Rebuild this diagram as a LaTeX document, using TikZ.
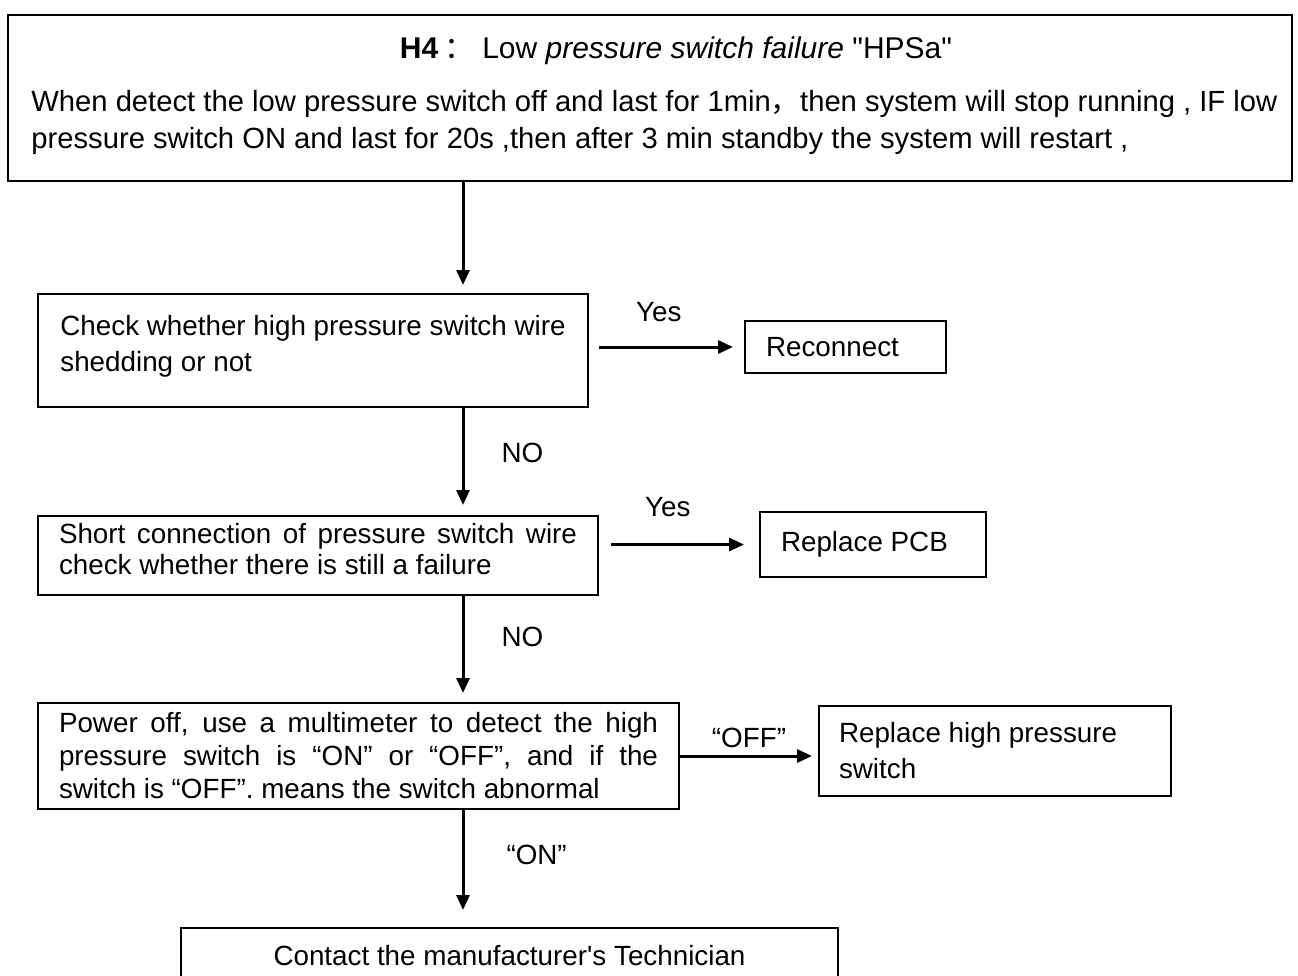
\documentclass[tikz,border=0pt]{standalone}
\usepackage{fontspec}
\newfontfamily\arial{Liberation Sans}
\newfontfamily\cjk{Noto Sans CJK SC}
\usetikzlibrary{arrows.meta, positioning, calc}
\newcommand{\fullline}[2]{\leavevmode\hbox to #1{\spaceskip=0.278em plus 1fil\relax #2}}
\tikzset{
  stepbox/.style={
    rectangle, draw, line width=1pt, anchor=north west,
    inner xsep=10.5pt, inner ysep=2pt, align=left,
    font=\arial\fontsize{13.9}{18}\selectfont,
    execute at begin node={\spaceskip=0pt\xspaceskip=0pt\relax}},
  txt/.style={inner sep=1pt, font=\arial\fontsize{13.9}{18}\selectfont},
  arr/.style={-{Triangle[length=7.5pt, width=6.5pt]}, line width=1.5pt},
}

\begin{document}
\begin{tikzpicture}[x=0.5pt, y=-0.5pt]
  \useasboundingbox[clip] (0,0) rectangle (1298,976);
  % heading box
  \node[stepbox, minimum width=642pt, minimum height=83pt] (head) at (7,14) {};
  \node[txt, font=\arial\fontsize{15}{18}\selectfont] (title) at (676,51)
    {\textbf{H4}\hspace{3pt}{\cjk ：}\hspace{4pt}Low \textit{pressure switch failure} "HPSa"};
  \node[txt, anchor=west, align=left, font=\arial\fontsize{14.6}{18.5}\selectfont] (desc) at (29,122)
    {When detect the low pressure switch off and last for 1min{\cjk ，}then system will stop running , IF low\\
     pressure switch ON and last for 20s ,then after 3 min standby the system will restart ,};
  \coordinate (spine) at (463,0);
  % steps
  \node[stepbox, minimum width=275pt, minimum height=56.5pt, inner xsep=0pt] (wire) at (37,293)
    {Check whether high pressure switch wire\\shedding or not\rule[-7.5pt]{0pt}{0pt}};
  \node[stepbox, text width=79.5pt, minimum height=26pt] (reconnect) at (744,320) {Reconnect};
  \node[stepbox, text width=259pt, minimum height=39.5pt,
        font=\arial\fontsize{13.9}{15.5}\selectfont] (short) at (37,515)
    {\fullline{259pt}{Short connection of pressure switch wire}\\
     check whether there is still a failure\rule[-7pt]{0pt}{0pt}};
  \node[stepbox, text width=299.5pt, minimum height=53pt,
        font=\arial\fontsize{13.9}{16.5}\selectfont] (meter) at (37,702)
    {\fullline{299.5pt}{Power off, use a multimeter to detect the high}\\
     \fullline{299.5pt}{pressure switch is “ON” or “OFF”, and if the}\\
     switch is “OFF”. means the switch abnormal};
  \node[stepbox, text width=92pt, minimum height=32.5pt] (pcb) at (759,511) {Replace PCB};
  \node[stepbox, text width=156pt, minimum height=45pt, inner xsep=10pt] (hps) at (818,705)
    {Replace high pressure\\switch};
  \node[stepbox, minimum width=328.5pt, minimum height=28pt, inner xsep=0pt, align=center] (tech) at (180,927)
    {Contact the manufacturer's Technician};
  % connectors
  \draw[arr, shorten >=4pt] (head.south -| spine) -- (wire.north -| spine);
  \draw[arr, shorten <=5pt, shorten >=5.5pt] (wire.east |- reconnect.west)
    -- node[txt, above=11pt, pos=0.45]{Yes} (reconnect.west);
  \draw[arr, shorten >=5pt] (wire.south -| spine)
    -- node[txt, right=17.5pt, pos=0.42]{NO} (short.north -| spine);
  \draw[arr, shorten <=6pt, shorten >=7.5pt] (short.east |- pcb.west)
    -- node[txt, above=12pt, pos=0.43]{Yes} (pcb.west);
  \draw[arr, shorten >=4.5pt] (short.south -| spine)
    -- node[txt, right=17.5pt, pos=0.39]{NO} (meter.north -| spine);
  \draw[arr, shorten >=3pt] (meter.east) -- node[txt, above=2.5pt]{“OFF”} (meter.east -| hps.west);
  \draw[arr, shorten >=8.5pt] (meter.south -| spine)
    -- node[txt, right=20pt, pos=0.38]{“ON”} (tech.north -| spine);
\end{tikzpicture}
\end{document}
